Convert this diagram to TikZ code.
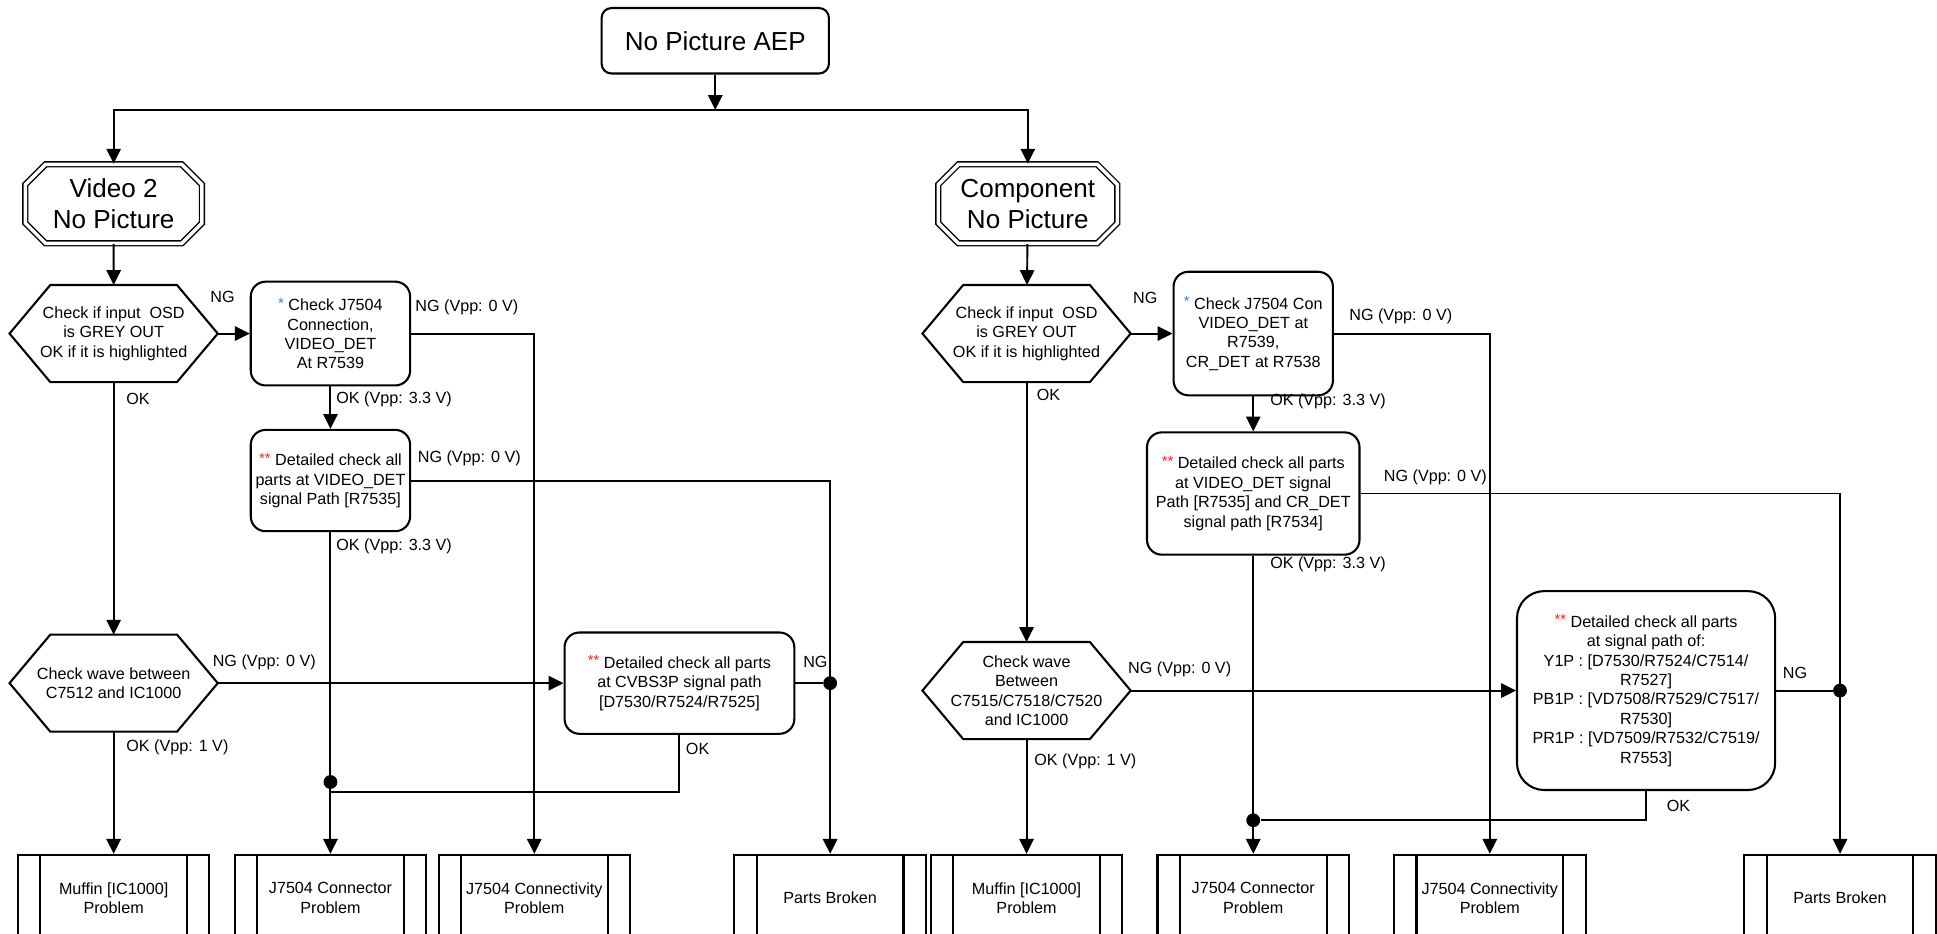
\documentclass[tikz,border=0pt]{standalone}
\usepackage{fontspec}
\setmainfont{Liberation Sans}
\usetikzlibrary{positioning,arrows.meta,shapes.misc}
\definecolor{starBlue}{HTML}{2F7FD3}
\definecolor{starRed}{HTML}{FF2020}
\newcommand{\fsmall}{\fontsize{9.3}{11.2}\selectfont}
\newcommand{\fbig}{\fontsize{15}{17.5}\selectfont}
\newcommand{\onestar}{\raisebox{1.4pt}{\fontsize{8.5}{8.5}\selectfont\color{starBlue}*}\ }
\newcommand{\twostar}{\raisebox{1.4pt}{\fontsize{8.5}{8.5}\selectfont\color{starRed}**}\ }
\tikzset{
  blk/.style={draw, line width=1.2pt, align=center, font=\fsmall, inner sep=1pt},
  start/.style={blk, rounded corners=2mm, font=\fbig, minimum width=46mm,
                minimum height=13.25mm},
  entry/.style={blk, chamfered rectangle, chamfered rectangle xsep=2.5mm,
                chamfered rectangle ysep=1.6mm, line width=0.8pt, double,
                double distance=2pt, font=\fbig, minimum height=16mm},
  proc/.style={blk, rounded corners=3mm},
  decide/.style={align=center, font=\fsmall, inner sep=0pt,
                 minimum width=42mm, minimum height=19.5mm},
  subproc/.style={blk, minimum width=38.75mm, minimum height=17.5mm},
  flow/.style={-{Triangle[length=3mm,width=2.9mm]}, line width=1.1pt},
  wire/.style={line width=1.1pt},
  % branch labels sit beside the lines, never on them
  lbl/.style={font=\fsmall, inner sep=0pt, anchor=west},
  joint/.style={circle, fill=black, inner sep=0pt, minimum size=2.8mm},
}
\newcommand{\hexa}[1]{\draw[line width=1.2pt] (#1.west)
  -- ([xshift=8.25mm]#1.north west) -- ([xshift=-8.25mm]#1.north east)
  -- (#1.east) -- ([xshift=-8.25mm]#1.south east)
  -- ([xshift=8.25mm]#1.south west) -- cycle;}
\newcommand{\subbars}[1]{\draw[line width=1.2pt]
  ([xshift=4.75mm]#1.north west) -- ([xshift=4.75mm]#1.south west)
  ([xshift=-4.75mm]#1.north east) -- ([xshift=-4.75mm]#1.south east);}

\begin{document}
\begin{tikzpicture}[x=0.25mm, y=-0.25mm]

\useasboundingbox (0,0) rectangle (1568,756);
\clip (0,0) rectangle (1568,756);

\node[start] (top) at (579,33) {No Picture AEP};
\coordinate (split) at (579,89);

% ---- Video 2 branch
\node[entry, minimum width=35.75mm] (vid) at (92,165) {Video 2\\No Picture};
\node[decide] (hex1) at (92,270)
  {Check if input~ OSD\\is GREY OUT\\OK if it is highlighted};
\node[proc, minimum width=32.25mm, minimum height=21mm] (j1) at (267.5,270)
  {\onestar Check J7504\\Connection,\\VIDEO\_DET\\At R7539};
\node[proc, minimum width=32.25mm, minimum height=20.5mm] (d1) at (267.5,389)
  {\twostar Detailed check all\\parts at VIDEO\_DET\\signal Path [R7535]};
\node[decide] (hex2) at (92,553) {Check wave between\\C7512 and IC1000};
\node[proc, minimum width=46.5mm, minimum height=20.5mm] (d2) at (550,553)
  {\twostar Detailed check all parts\\at CVBS3P signal path\\{}[D7530/R7524/R7525]};

% ---- Component branch
\node[entry, minimum width=36.25mm] (comp) at (832,165) {Component\\No Picture};
\node[decide] (hex3) at (831,270)
  {Check if input~ OSD\\is GREY OUT\\OK if it is highlighted};
\node[proc, minimum width=32.25mm, minimum height=25mm] (j2) at (1014.5,270)
  {\onestar Check J7504 Con\\VIDEO\_DET at\\R7539,\\CR\_DET at R7538};
\node[proc, minimum width=43mm, minimum height=24.75mm] (d3) at (1014.5,399.5)
  {\twostar Detailed check all parts\\at VIDEO\_DET signal\\Path [R7535] and CR\_DET\\signal path [R7534]};
\node[decide] (hex4) at (831,559)
  {Check wave\\Between\\C7515/C7518/C7520\\and IC1000};
\node[proc, rounded corners=5.5mm, minimum width=52.25mm, minimum height=40.25mm]
  (d4) at (1332.5,559)
  {\twostar Detailed check all parts\\at signal path of:\\
   Y1P : [D7530/R7524/C7514/\\R7527]\\PB1P : [VD7508/R7529/C7517/\\R7530]\\
   PR1P : [VD7509/R7532/C7519/\\R7553]};

\foreach \h in {hex1,hex2,hex3,hex4} {\hexa{\h}}

% ---- end boxes
\node[subproc] (m1) at (92,727) {Muffin [IC1000]\\Problem};
\node[subproc] (c1) at (267.5,727) {J7504 Connector\\Problem};
\node[subproc] (cy1) at (432.5,727) {J7504 Connectivity\\Problem};
\node[subproc] (pb1) at (672,727) {Parts Broken};
\node[subproc] (m2) at (831,727) {Muffin [IC1000]\\Problem};
\node[subproc] (c2) at (1014.5,727) {J7504 Connector\\Problem};
\node[subproc] (cy2) at (1206,727) {J7504 Connectivity\\Problem};
\node[subproc] (pb2) at (1489.5,727) {Parts Broken};
\foreach \b in {m1,c1,cy1,pb1,m2,c2,cy2,pb2} {\subbars{\b}}

\node[joint] (jt1) at (267.5,633) {};
\node[joint] (jt2) at (672,553) {};
\node[joint] (jt3) at (1014.5,664) {};
\node[joint] (jt4) at (1489.5,559) {};
\coordinate (lk1) at (267.5,641);

% ---- connectors
\draw[flow] (top) -- (split);
\draw[flow] (split) -| (vid);
\draw[flow] (split) -| (comp);

\draw[flow] (vid) -- (hex1);
\draw[flow] (hex1.east) -- (j1.west);
\draw[flow] (j1.east) -| (cy1.north);
\draw[flow] (j1.south) -- (d1.north);
\draw[flow] (d1.east) -| (pb1.north);
\draw[flow] (d1.south) -- (c1.north);
\draw[flow] (hex1.south) -- (hex2.north);
\draw[flow] (hex2.east) -- (d2.west);
\draw[wire] (d2.east) -- (jt2);
\draw[wire] (d2.south) |- (lk1);
\draw[flow] (hex2.south) -- (m1.north);

\draw[flow] (comp) -- (hex3);
\draw[flow] (hex3.east) -- (j2.west);
\draw[flow] (j2.east) -| (cy2.north);
\draw[flow] (j2.south) -- (d3.north);
\draw[flow] (d3.east) -| (pb2.north);
\draw[flow] (d3.south) -- (c2.north);
\draw[flow] (hex3.south) -- (hex4.north);
\draw[flow] (hex4.east) -- (d4.west);
\draw[wire] (d4.east) -- (jt4);
\draw[wire] (d4.south) |- (jt3);
\draw[flow] (hex4.south) -- (m2.north);

% ---- branch labels
\node[lbl] (l1) at (170,240) {NG};
\node[lbl] (l2) at (336,249) {NG (Vpp: 0 V)};
\node[lbl] (l3) at (272,323) {OK (Vpp: 3.3 V)};
\node[lbl] (l4) at (338,371) {NG (Vpp: 0 V)};
\node[lbl] (l5) at (272,442) {OK (Vpp: 3.3 V)};
\node[lbl] (l6) at (102,323) {OK};
\node[lbl] (l7) at (172,536) {NG (Vpp: 0 V)};
\node[lbl] (l8) at (102,605) {OK (Vpp: 1 V)};
\node[lbl] (l9) at (650,536) {NG};
\node[lbl] (l10) at (555,606) {OK};

\node[lbl] (r1) at (917,241) {NG};
\node[lbl] (r2) at (1092,256) {NG (Vpp: 0 V)};
\node[lbl] (r3) at (1028,325) {OK (Vpp: 3.3 V)};
\node[lbl] (r4) at (1120,386) {NG (Vpp: 0 V)};
\node[lbl] (r5) at (1028,457) {OK (Vpp: 3.3 V)};
\node[lbl] (r6) at (839,320) {OK};
\node[lbl] (r7) at (913,542) {NG (Vpp: 0 V)};
\node[lbl] (r8) at (837,616) {OK (Vpp: 1 V)};
\node[lbl] (r9) at (1443,545) {NG};
\node[lbl] (r10) at (1349,652) {OK};

\end{tikzpicture}
\end{document}
